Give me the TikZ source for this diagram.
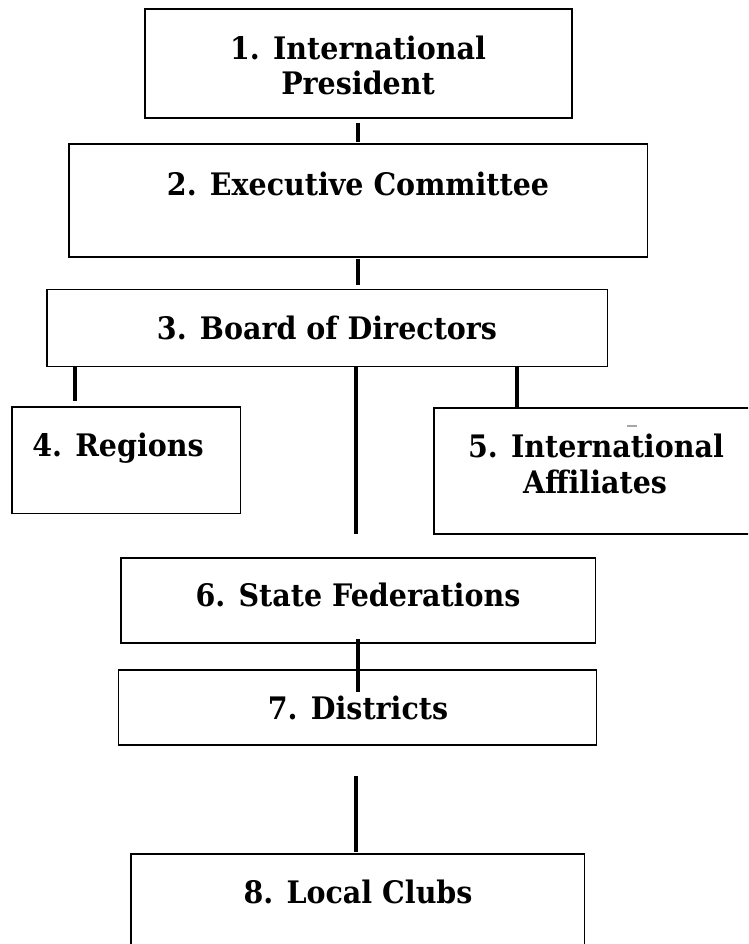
\documentclass[tikz,border=0pt]{standalone}
\usepackage{fontspec}
\setmainfont{DejaVu Serif}[FakeStretch=0.92]
\usetikzlibrary{calc}
\begin{document}
\begin{tikzpicture}[x=1pt,y=-1pt,
  box/.style={draw=black,line width=1.9pt,inner sep=0pt,fill=none},
  lab/.style={font=\fontsize{31}{36}\selectfont\bfseries,inner sep=0pt,anchor=base},
  conn/.style={draw=black,line width=4.6pt}]
\useasboundingbox (0,0) rectangle (748,944);
\clip (0,0) rectangle (748,944);
\fill[white] (0,0) rectangle (748,944);
% boxes (corner-defined)
\node[box,minimum width=427pt,minimum height=109pt] (b1) at (358.5,63.5) {};
\node[box,minimum width=578.5pt,minimum height=113pt] (b2) at (358.25,200.5) {};
\node[box,minimum width=560.5pt,minimum height=77pt] (b3) at (327.25,328) {};
\node[box,minimum width=228.5pt,minimum height=106.5pt] (b4) at (126.25,460.25) {};
\node[box,minimum width=330pt,minimum height=126pt] (b5) at (599,471) {};
\node[box,minimum width=474.5pt,minimum height=85pt] (b6) at (358.25,600.5) {};
\node[box,minimum width=478pt,minimum height=75pt] (b7) at (357.5,707.5) {};
\node[box,minimum width=453.5pt,minimum height=110pt] (b8) at (357.75,909) {};
% labels
\node[lab] (t1a) at (358,59.3) {1. International};
\node[lab] (t1b) at (358,95) {President};
\node[lab] (t2) at (358,195) {2. Executive Committee};
\node[lab] (t3) at (327,339.3) {3. Board of Directors};
\node[lab] (t4) at (118,456.7) {4. Regions};
\node[lab] (t5a) at (596,457.7) {5. International};
\node[lab] (t5b) at (595,493.3) {Affiliates};
\node[lab] (t6) at (358,606.7) {6. State Federations};
\node[lab] (t7) at (358,719.3) {7. Districts};
\node[lab] (t8) at (358,903.3) {8. Local Clubs};
% small grey mark
\coordinate (m1) at (627,426);
\coordinate (m2) at (637,426);
\draw[gray!70,line width=1.3pt] (m1) -- (m2);
% connectors
\coordinate (x358) at (358,0);
\coordinate (x356) at (356,0);
\coordinate (x75) at (75,0);
\coordinate (x517) at (517,0);
\coordinate (mid) at (356,534);
\draw[conn] ($(x358 |- b1.south)+(0,4)$) -- ($(x358 |- b2.north)+(0,-1)$);
\draw[conn] ($(x358 |- b2.south)+(0,1)$) -- ($(x358 |- b3.north)+(0,-3.5)$);
\draw[conn] (x75 |- b3.south) -- ($(x75 |- b4.north)+(0,-5)$);
\draw[conn] ($(x356 |- b3.south)+(0,-1.5)$) -- (mid);
\draw[conn] (x517 |- b3.south) -- (x517 |- b5.north);
\draw[conn] ($(x358 |- b6.south)+(0,-5)$) -- ($(x358 |- b7.north)+(0,23)$);
\draw[conn] ($(x356 |- b7.south)+(0,30)$) -- ($(x356 |- b8.north)+(0,-1.5)$);
\end{tikzpicture}
\end{document}
